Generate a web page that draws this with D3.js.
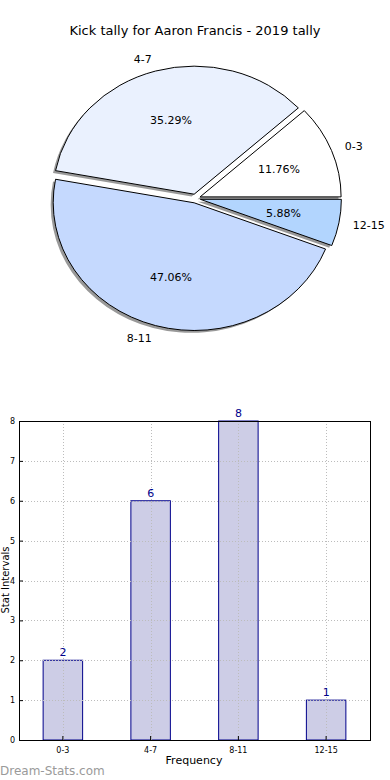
<!DOCTYPE html>
<html><head><meta charset="utf-8">
<script src="https://cdn.jsdelivr.net/npm/d3@7"></script>
<style>body{margin:0;background:#fff}svg{display:block;font-family:"DejaVu Sans",sans-serif}</style>
</head><body>
<svg id="c" width="390" height="780"></svg>
<script>
const categories = ["0-3", "4-7", "8-11", "12-15"];
const counts = [2, 6, 8, 1];
const pieColors = ["#ffffff", "#eaf1fe", "#c5d9fe", "#b2d5fe"];
const yTicks = [0, 1, 2, 3, 4, 5, 6, 7, 8];
const title = "Kick tally for Aaron Francis - 2019 tally";

const svg = d3.select("#c");
svg.append("rect").attr("width",390).attr("height",780).attr("fill","#fff");

// Title
svg.append("text").attr("x",195).attr("y",35).attr("text-anchor","middle")
  .attr("font-size",13).attr("fill","#000").text(title);

// ---- Pie ----
const cx = 195.5, cy = 198.5, rx = 141, ry = 128, expl = 0.035;
const total = d3.sum(counts);
const pie = d3.pie().sort(null).startAngle(Math.PI/2).endAngle(Math.PI/2 - 2*Math.PI);
const arcs = pie(counts);
const arc = d3.arc().innerRadius(0).outerRadius(1);
const gPie = svg.append("g");

function mid(d){ return (d.startAngle + d.endAngle)/2; }
function off(d){ const m = mid(d); return [expl*rx*Math.sin(m), -expl*ry*Math.cos(m)]; }

// shadows
arcs.forEach((d,i)=>{
  const [ox,oy] = off(d);
  gPie.append("path").attr("d", arc(d))
    .attr("transform", `translate(${cx+ox-0.018*rx},${cy+oy+0.018*ry}) scale(${rx},${ry})`)
    .attr("fill", "#000").attr("fill-opacity", 0.4).attr("stroke","none");
});
arcs.forEach((d,i)=>{
  const [ox,oy] = off(d);
  gPie.append("path").attr("d", arc(d))
    .attr("transform", `translate(${cx+ox},${cy+oy}) scale(${rx},${ry})`)
    .attr("fill", pieColors[i]).attr("stroke","#000").attr("stroke-width",1)
    .attr("vector-effect","non-scaling-stroke");
});
arcs.forEach((d,i)=>{
  const [ox,oy] = off(d);
  const m = mid(d);
  const lx = cx + ox + 1.1*rx*Math.sin(m), ly = cy + oy - 1.1*ry*Math.cos(m);
  gPie.append("text").attr("x",lx).attr("y",ly).attr("dy","0.35em")
    .attr("text-anchor", Math.sin(m) > 0 ? "start" : "end")
    .attr("font-size",11).text(categories[i]);
  const px = cx + ox + 0.6*rx*Math.sin(m), py = cy + oy - 0.6*ry*Math.cos(m);
  gPie.append("text").attr("x",px).attr("y",py).attr("dy","0.35em")
    .attr("text-anchor","middle").attr("font-size",11)
    .text((counts[i]/total*100).toFixed(2) + "%");
});

// ---- Bar chart ----
const L = 19, R = 370, T = 421, B = 740;
const x = d3.scaleBand().domain(categories).range([L,R]).paddingInner(0.55).paddingOuter(0.275);
const y = d3.scaleLinear().domain([0,8]).range([B,T]);
const g = svg.append("g");

g.selectAll("rect.bar").data(counts).join("rect").attr("class","bar")
  .attr("x",(d,i)=>x(categories[i])).attr("width",x.bandwidth())
  .attr("y",d=>y(d)).attr("height",d=>B-y(d))
  .attr("fill","#cdcde6").attr("stroke","#00008b").attr("stroke-width",1);

// grid
const grid = g.append("g").attr("stroke","#bcbcbc").attr("stroke-dasharray","1,2").attr("stroke-width",1);
yTicks.forEach(t=>{
  grid.append("line").attr("x1",L).attr("x2",R).attr("y1",Math.round(y(t))+0.5).attr("y2",Math.round(y(t))+0.5);
});
categories.forEach(c=>{
  const xc = Math.round(x(c)+x.bandwidth()/2)+0.5;
  grid.append("line").attr("x1",xc).attr("x2",xc).attr("y1",T).attr("y2",B);
});

// axes
const yAxis = d3.axisLeft(y).tickValues(yTicks).tickSize(-4).tickPadding(4);
const ga = g.append("g").attr("transform",`translate(${L},0)`).call(yAxis);
ga.select(".domain").remove();
ga.selectAll("text").attr("font-size",8).attr("fill","#000").attr("font-family","DejaVu Sans");
const xAxis = d3.axisBottom(x).tickSize(-4).tickPadding(7);
const gx = g.append("g").attr("transform",`translate(0,${B})`).call(xAxis);
gx.select(".domain").remove();
gx.selectAll("text").attr("font-size",8).attr("fill","#000").attr("font-family","DejaVu Sans");

g.append("rect").attr("x",L+0.5).attr("y",T+0.5).attr("width",R-L).attr("height",B-T)
  .attr("fill","none").attr("stroke","#000").attr("stroke-width",1);

// value labels
g.selectAll("text.val").data(counts).join("text").attr("class","val")
  .attr("x",(d,i)=>x(categories[i])+x.bandwidth()/2).attr("y",d=>y(d)-4)
  .attr("text-anchor","middle").attr("font-size",11).attr("fill","#00008b").text(d=>d);

// axis labels
svg.append("text").attr("x",194).attr("y",764).attr("text-anchor","middle").attr("font-size",11).text("Frequency");
svg.append("text").attr("transform","translate(8.5,580) rotate(-90)").attr("text-anchor","middle")
  .attr("font-size",10).text("Stat Intervals");

// watermark
svg.append("text").attr("x",0).attr("y",775).attr("font-size",12)
  .attr("fill","#9a9a9a").text("Dream-Stats.com");
</script>
</body></html>
